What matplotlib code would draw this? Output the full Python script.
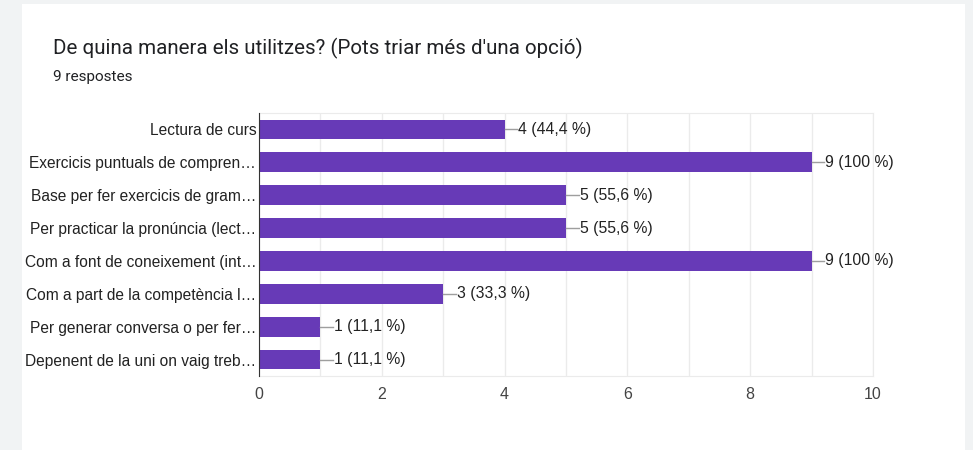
import matplotlib.pyplot as plt
from matplotlib.patches import Rectangle

plt.rcParams['font.family'] = ['Roboto', 'DejaVu Sans']
chart_font = ['Liberation Sans', 'DejaVu Sans']

categories = [
    'Lectura de curs',
    'Exercicis puntuals de compren…',
    'Base per fer exercicis de gram…',
    'Per practicar la pronúncia (lect…',
    'Com a font de coneixement (int…',
    'Com a part de la competència l…',
    'Per generar conversa o per fer…',
    'Depenent de la uni on vaig treb…',
]
counts = [4, 9, 5, 5, 9, 3, 1, 1]
percents = ['44,4', '100', '55,6', '55,6', '100', '33,3', '11,1', '11,1']

fig = plt.figure(figsize=(9.73, 4.5), dpi=100)
fig.patch.set_facecolor('#f1f3f4')
fig.patches.append(Rectangle((22 / 973, 0), 943 / 973, 1 - 4 / 450,
                             transform=fig.transFigure, facecolor='white',
                             edgecolor='none', zorder=-10))

fig.text(53 / 973, 1 - 48 / 450, "De quina manera els utilitzes? (Pots triar més d'una opció)",
         fontsize=14.8, color='#202124', va='center', ha='left')
fig.text(53 / 973, 1 - 77 / 450, '9 respostes', fontsize=11, color='#202124',
         va='center', ha='left')

axe = fig.add_axes([259 / 973, 1 - 376 / 450, 614 / 973, 263 / 450])
axe.set_zorder(5)
axe.set_facecolor('white')
y = list(range(len(categories)))
axe.barh(y, counts, height=0.6, color='#673ab7', zorder=3)
axe.set_ylim(len(categories) - 0.5, -0.5)
axe.set_xlim(0, 10)
axe.set_yticks(y)
axe.set_yticklabels(categories, fontsize=11.2, color='#222222', family=chart_font)
axe.set_xticks(range(0, 11, 2))
axe.set_xticks(range(0, 11), minor=True)
for lbl in axe.get_xticklabels():
    lbl.set_family(chart_font)
axe.tick_params(axis='x', which='both', length=0, labelsize=11.5, labelcolor='#444444', pad=8)
axe.tick_params(axis='y', length=0, pad=2)
axe.grid(axis='x', which='both', color='#ebebeb', linewidth=1, zorder=0)

for s in ['top', 'right', 'bottom']:
    axe.spines[s].set_color('#ebebeb')
axe.spines['left'].set_color('#333333')
axe.spines['left'].set_zorder(4)

for i, (c, p) in enumerate(zip(counts, percents)):
    axe.plot([c, c + 0.21], [i, i], color='#9e9e9e', linewidth=1, zorder=3)
    axe.text(c + 0.22, i, '{} ({} %)'.format(c, p), va='center', ha='left',
             fontsize=11.3, color='#222222', zorder=4, family=chart_font)

plt.savefig('out.png', dpi=100)
